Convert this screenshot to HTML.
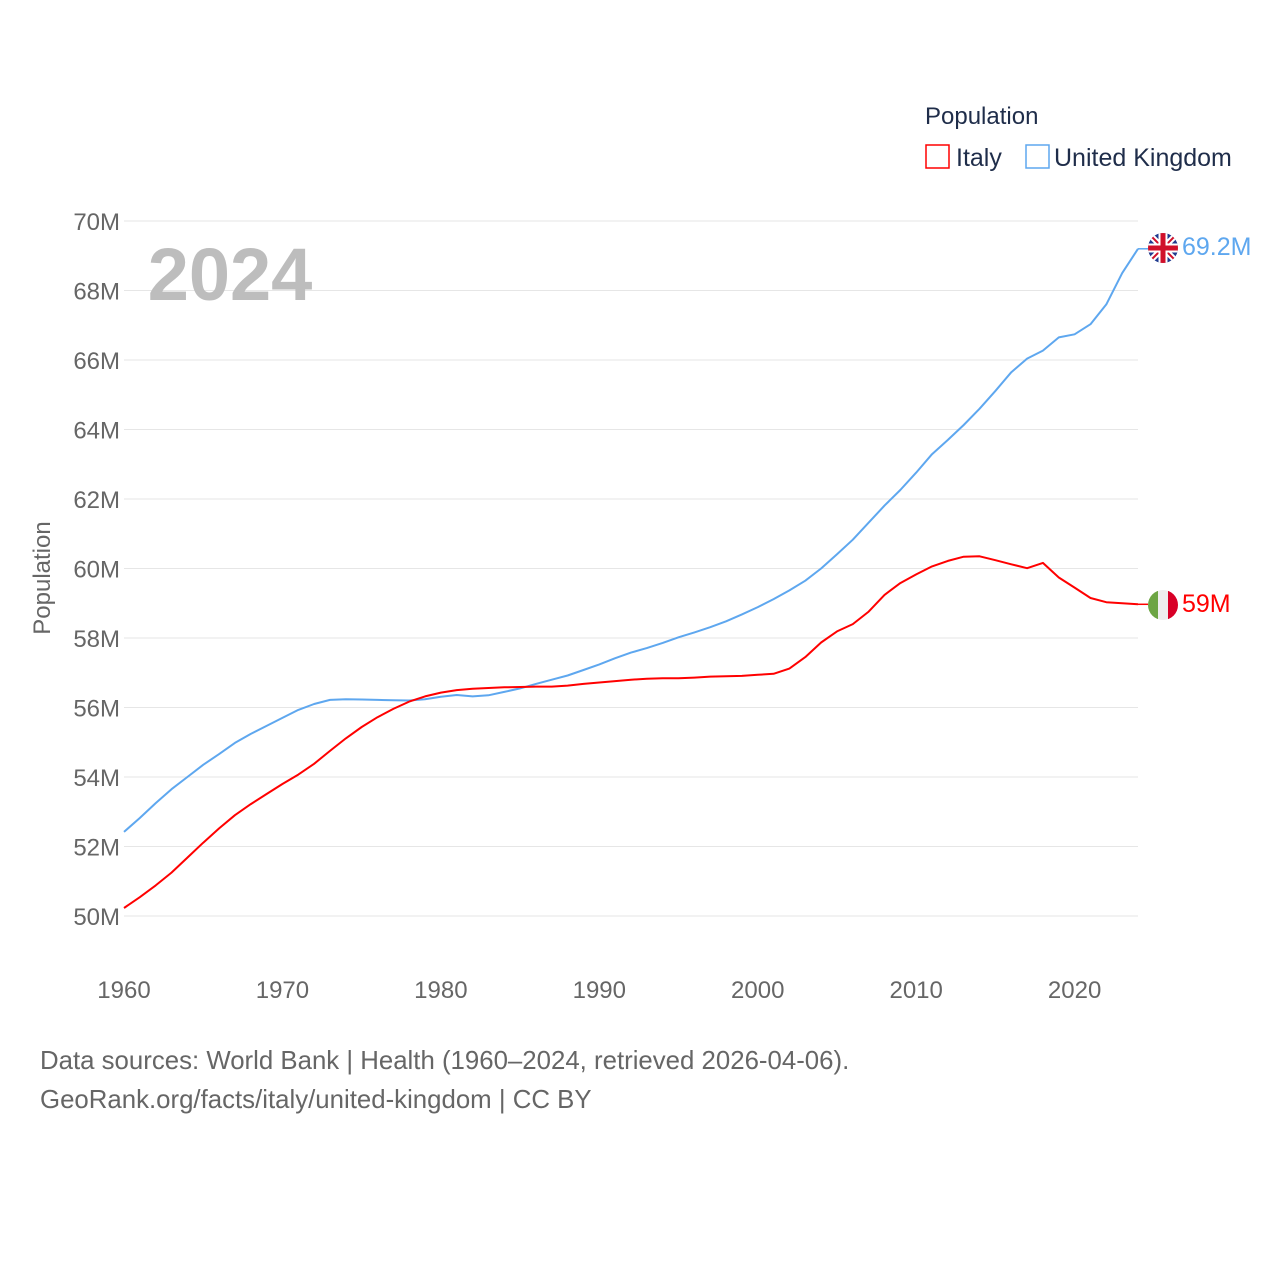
<!DOCTYPE html>
<html><head><meta charset="utf-8"><style>
body{margin:0;background:#fff;}
svg{display:block;font-family:"Liberation Sans",sans-serif;}
</style></head><body>
<svg id="chart" width="1280" height="1280" xmlns="http://www.w3.org/2000/svg">
<g id="grid"></g>
<g id="yticks"></g>
<g id="xticks"></g>
<text x="230" y="300" font-size="74" font-weight="bold" fill="#bdbdbd" text-anchor="middle">2024</text>
<text transform="translate(50,578) rotate(-90)" font-size="24" fill="#666" text-anchor="middle">Population</text>
<g id="series"></g>
<g>
<text x="925" y="124" font-size="24" fill="#1f2d4a">Population</text>
<g><rect x="926" y="145" width="23" height="23" fill="none" stroke="#ff0000" stroke-width="1.5"/><text x="956" y="166" font-size="25" fill="#1f2d4a">Italy</text></g>
<g><rect x="1026" y="145" width="23" height="23" fill="none" stroke="#5ea7ef" stroke-width="1.5"/><text x="1054" y="166" font-size="25" fill="#1f2d4a">United Kingdom</text></g>
</g>
<g>
<clipPath id="cuk"><circle cx="1163" cy="248" r="15"/></clipPath>
<g clip-path="url(#cuk)"><rect x="1146" y="231" width="34" height="34" fill="#1f3a8f"/>
<path d="M1146 231L1180 265M1180 231L1146 265" stroke="#fff" stroke-width="6"/>
<path d="M1146 231L1180 265M1180 231L1146 265" stroke="#d0102a" stroke-width="2"/>
<path d="M1163 231V265M1146 248H1180" stroke="#fff" stroke-width="9"/>
<path d="M1163 231V265M1146 248H1180" stroke="#d0102a" stroke-width="5"/></g></g>
<g>
<clipPath id="cit"><circle cx="1163" cy="605" r="15"/></clipPath>
<g clip-path="url(#cit)"><rect x="1146" y="588" width="12" height="34" fill="#6da544"/><rect x="1158" y="588" width="10" height="34" fill="#eee"/><rect x="1168" y="588" width="14" height="34" fill="#d80027"/></g></g>
<text x="1182" y="255" font-size="25" fill="#5ea7ef">69.2M</text>
<text x="1182" y="612" font-size="25" fill="#ff0000">59M</text>
<text x="40" y="1069" font-size="25.8" fill="#666">Data sources: World Bank | Health (1960–2024, retrieved 2026-04-06).</text>
<text x="40" y="1108" font-size="25.8" fill="#666">GeoRank.org/facts/italy/united-kingdom | CC BY</text>
</svg>
<script>
const startYear = 1960;
const yTicks = [50,52,54,56,58,60,62,64,66,68,70];
const xTicks = [1960,1970,1980,1990,2000,2010,2020];
const ukValues = [52.42,52.82,53.25,53.65,54.0,54.35,54.66,54.98,55.24,55.47,55.7,55.93,56.1,56.22,56.24,56.23,56.22,56.21,56.2,56.24,56.31,56.36,56.32,56.35,56.45,56.55,56.68,56.8,56.92,57.08,57.24,57.42,57.58,57.71,57.86,58.02,58.16,58.31,58.48,58.68,58.89,59.12,59.37,59.65,60.0,60.41,60.83,61.32,61.81,62.26,62.76,63.29,63.7,64.13,64.6,65.11,65.65,66.04,66.27,66.65,66.74,67.03,67.6,68.5,69.2];
const italyValues = [50.23,50.54,50.88,51.25,51.68,52.11,52.52,52.9,53.22,53.51,53.8,54.07,54.38,54.75,55.11,55.44,55.72,55.96,56.17,56.32,56.43,56.5,56.54,56.56,56.58,56.59,56.6,56.6,56.63,56.68,56.72,56.76,56.8,56.83,56.84,56.84,56.86,56.89,56.9,56.91,56.94,56.97,57.12,57.45,57.87,58.19,58.4,58.76,59.24,59.58,59.83,60.06,60.22,60.34,60.35,60.24,60.12,60.01,60.16,59.74,59.45,59.15,59.03,59.0,58.97];
const NS="http://www.w3.org/2000/svg";
function xs(yr){return 124+(yr-1960)*(1014/64);}
function ys(v){return 916-(v-50)*34.75;}
function mk(tag,attrs,parent){const e=document.createElementNS(NS,tag);for(const k in attrs)e.setAttribute(k,attrs[k]);parent.appendChild(e);return e;}
const grid=document.getElementById('grid'),yt=document.getElementById('yticks'),xt=document.getElementById('xticks'),ser=document.getElementById('series');
yTicks.forEach(v=>{
 const l=mk('line',{x1:124,x2:1138,y1:ys(v),y2:ys(v),stroke:'#e6e6e6','stroke-width':1},grid);
 
 
 const t=mk('text',{x:120,y:ys(v)+9,'font-size':24,fill:'#666','text-anchor':'end'},yt);
 t.textContent=v+'M';
 
 
});
xTicks.forEach(yr=>{
 const t=mk('text',{x:xs(yr),y:998,'font-size':24,fill:'#666','text-anchor':'middle'},xt);
 t.textContent=yr;
 
 
});
function line(vals,color,name){
 const d=vals.map((v,i)=>(i?'L':'M')+xs(startYear+i).toFixed(1)+' '+ys(v).toFixed(1)).join('');
 const p=mk('path',{d:d,fill:'none',stroke:color,'stroke-width':2,'stroke-linejoin':'round'},ser);
 
 
 const last=vals[vals.length-1];
 const c=mk('line',{x1:xs(startYear+vals.length-1),x2:1148,y1:ys(last),y2:ys(last),stroke:color,'stroke-width':1.5},ser);
 
 
}
line(ukValues,'#5ea7ef','uk-line');
line(italyValues,'#ff0000','italy-line');
</script>
</body></html>
